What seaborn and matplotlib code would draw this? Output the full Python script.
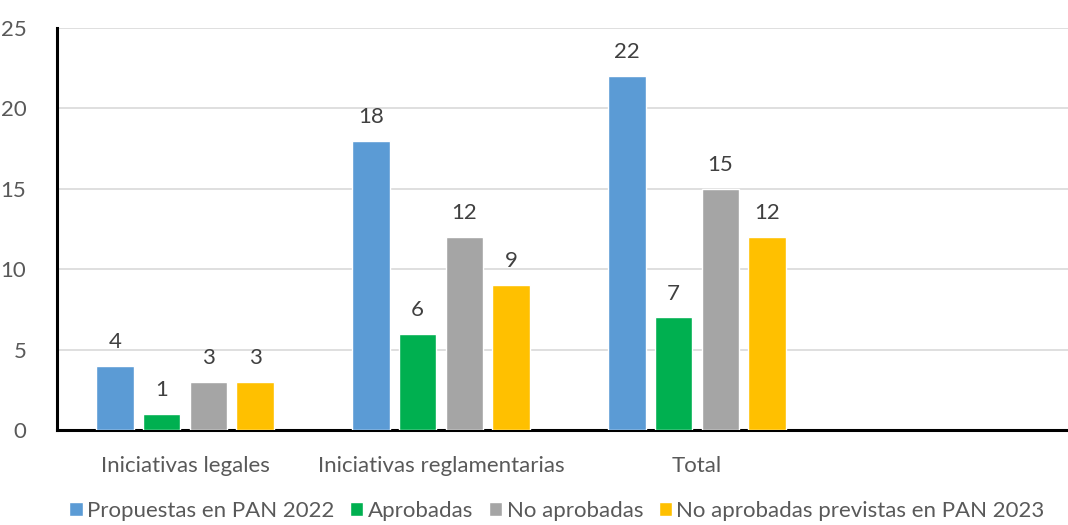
import matplotlib
matplotlib.use("Agg")
import matplotlib.pyplot as plt
import seaborn as sns
import pandas as pd

# data
categorias = ["Iniciativas legales", "Iniciativas reglamentarias", "Total", " "]
series = ["Propuestas en PAN 2022", "Aprobadas", "No aprobadas",
          "No aprobadas previstas en PAN 2023"]
propuestas = [4, 18, 22]
aprobadas = [1, 6, 7]
no_aprobadas = [3, 12, 15]
previstas = [3, 9, 12]
colores = ["#5b9bd5", "#00b050", "#a5a5a5", "#ffc000"]

rows = []
for serie, vals in zip(series, [propuestas, aprobadas, no_aprobadas, previstas]):
    for cat, v in zip(categorias[:3], vals):
        rows.append({"cat": cat, "serie": serie, "valor": v})
df = pd.DataFrame(rows)

sns.set_theme(style="white")
plt.rcParams["font.family"] = ["Lato", "DejaVu Sans"]
gris = "#595959"
fs = 16

fig = plt.figure(figsize=(10.68, 5.25), dpi=100)
ax = fig.add_axes([57 / 1068, 95 / 525, 1024 / 1068, 402 / 525])

sns.barplot(data=df, x="cat", y="valor", hue="serie", order=categorias,
            hue_order=series, palette=colores, width=0.73, gap=0.2,
            saturation=1, ax=ax, zorder=3)

for cont in ax.containers:
    ax.bar_label(cont, padding=10, fontsize=fs, color="#404040")

ax.set_ylim(0, 25)
ax.set_yticks(range(0, 26, 5))
ax.set_xlim(-0.5, 3.5)
ax.yaxis.grid(True, color="#d9d9d9", linewidth=1.2, zorder=0)
ax.set_xlabel("")
ax.set_ylabel("")
for s in ["top", "right"]:
    ax.spines[s].set_visible(False)
for s in ["left", "bottom"]:
    ax.spines[s].set_color("black")
    ax.spines[s].set_linewidth(2.2)
ax.tick_params(axis="both", length=0, colors=gris, labelsize=fs)
ax.tick_params(axis="x", pad=19)
ax.tick_params(axis="y", pad=22)

handles, labels = ax.get_legend_handles_labels()
ax.legend(handles, labels, loc="lower center", bbox_to_anchor=(500 / 1024, -0.232),
          ncol=4, frameon=False, fontsize=fs, handlelength=0.6, handleheight=0.6,
          handletextpad=0.2, columnspacing=0.7, labelcolor=gris,
          borderaxespad=0, borderpad=0.1)

fig.savefig("out.png", dpi=100)
